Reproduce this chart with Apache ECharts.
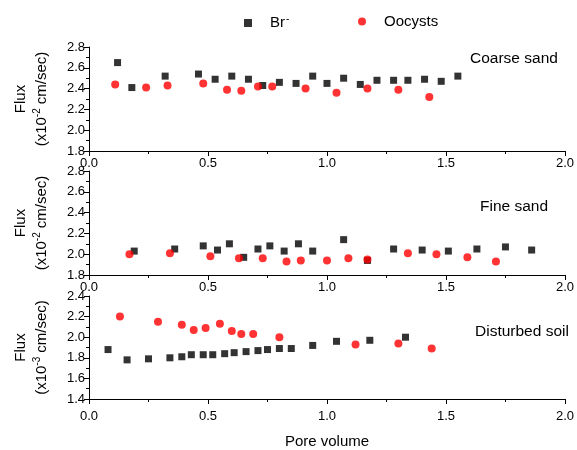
<!DOCTYPE html>
<html><head><meta charset="utf-8">
<script src="https://cdn.jsdelivr.net/npm/echarts@6/dist/echarts.min.js"></script>
<style>html,body{margin:0;padding:0;background:#fff}#c{width:577px;height:450px}</style>
</head><body><div id="c"></div>
<script>
// ---- data (pore volume, flux) ----
const coarseBrX = [0.12,0.18,0.32,0.46,0.53,0.60,0.67,0.73,0.80,0.87,0.94,1.00,1.07,1.14,1.21,1.28,1.34,1.41,1.48,1.55];
const coarseBrY = [2.65,2.41,2.52,2.54,2.49,2.52,2.49,2.43,2.46,2.45,2.52,2.45,2.50,2.44,2.48,2.48,2.48,2.49,2.47,2.52];
const coarseOoX = [0.11,0.24,0.33,0.48,0.58,0.64,0.71,0.77,0.91,1.04,1.17,1.30,1.43];
const coarseOoY = [2.44,2.41,2.43,2.45,2.39,2.38,2.42,2.42,2.40,2.36,2.40,2.39,2.32];

const fineBrX = [0.19,0.36,0.48,0.54,0.59,0.65,0.71,0.76,0.82,0.88,0.94,1.07,1.17,1.28,1.40,1.51,1.63,1.75,1.86];
const fineBrY = [2.03,2.05,2.08,2.04,2.10,1.97,2.05,2.08,2.03,2.10,2.03,2.14,1.94,2.05,2.04,2.03,2.05,2.07,2.04];
const fineOoX = [0.17,0.34,0.51,0.63,0.73,0.83,0.89,1.00,1.09,1.17,1.34,1.46,1.59,1.71];
const fineOoY = [2.00,2.01,1.98,1.96,1.96,1.93,1.94,1.94,1.96,1.95,2.01,2.00,1.97,1.93];

const soilBrX = [0.08,0.16,0.25,0.34,0.39,0.43,0.48,0.52,0.57,0.61,0.66,0.71,0.75,0.80,0.85,0.94,1.04,1.18,1.33];
const soilBrY = [1.88,1.78,1.79,1.80,1.81,1.83,1.83,1.83,1.84,1.85,1.86,1.87,1.88,1.89,1.89,1.92,1.96,1.97,2.00];
const soilOoX = [0.13,0.29,0.39,0.44,0.49,0.55,0.60,0.64,0.69,0.80,1.12,1.30,1.44];
const soilOoY = [2.20,2.15,2.12,2.07,2.09,2.13,2.06,2.03,2.03,2.00,1.93,1.94,1.89];

const panelNames = ['Coarse sand','Fine sand','Disturbed soil'];
const yMins = [1.8,1.8,1.4];
const yMaxs = [2.8,2.8,2.4];
const unitExps = ['-2','-2','-3'];
const xMin = 0, xMax = 2.0, xStep = 0.5, yStep = 0.2;
const seriesNames = ['Br','Oocysts'];
const xTitle = 'Pore volume';

// ---- chart ----
const FONT = 'Liberation Sans, Arial, sans-serif';
const zip = (xs, ys) => xs.map((x, i) => [x, ys[i]]);
const panels = [
  [zip(coarseBrX, coarseBrY), zip(coarseOoX, coarseOoY)],
  [zip(fineBrX, fineBrY), zip(fineOoX, fineOoY)],
  [zip(soilBrX, soilBrY), zip(soilOoX, soilOoY)]
];
const tops = [47, 171, 296];
const H = 104, L = 89, W = 476;

const grid = tops.map(t => ({left: L, top: t, width: W, height: H}));
const axisCommon = {
  axisLine: {show: true, onZero: false, lineStyle: {color: '#000', width: 1}},
  axisTick: {show: true, length: 5, lineStyle: {color: '#000'}},
  minorTick: {show: true, splitNumber: 2, length: 3, lineStyle: {color: '#000'}},
  splitLine: {show: false},
  minorSplitLine: {show: false}
};
const xAxis = tops.map((t, i) => Object.assign({}, axisCommon, {
  type: 'value', gridIndex: i, min: xMin, max: xMax, interval: xStep,
  axisLabel: {color: '#000', fontSize: 13, fontFamily: FONT, margin: i === 2 ? 11 : 6,
    formatter: v => v.toFixed(1)},
  name: i === 2 ? xTitle : '', nameLocation: 'middle', nameGap: 35,
  nameTextStyle: {color: '#000', fontSize: 15, fontFamily: FONT}
}));
const yAxis = tops.map((t, i) => Object.assign({}, axisCommon, {
  type: 'value', gridIndex: i, min: yMins[i], max: yMaxs[i], interval: yStep,
  axisLabel: {color: '#000', fontSize: 13, fontFamily: FONT, margin: 4,
    formatter: v => v.toFixed(1)},
  name: '{t|Flux}\n{t|(x10}{s|' + unitExps[i] + '}{t| cm/sec)}',
  nameLocation: 'middle', nameRotate: 90, nameGap: 37,
  nameTextStyle: {color: '#000', fontFamily: FONT, lineHeight: 21,
    rich: {
      t: {fontSize: 15, fontFamily: FONT, color: '#000', lineHeight: 21},
      s: {fontSize: 10, fontFamily: FONT, color: '#000', lineHeight: 21, padding: [0, 0, 9, 0]}
    }}
}));
const series = [];
panels.forEach((p, i) => {
  series.push({name: seriesNames[0], type: 'scatter', xAxisIndex: i, yAxisIndex: i,
    symbol: 'rect', symbolSize: 7, itemStyle: {color: '#000'}, data: p[0]});
  series.push({name: seriesNames[1], type: 'scatter', xAxisIndex: i, yAxisIndex: i,
    symbol: 'circle', symbolSize: 8, itemStyle: {color: '#ff0000'}, data: p[1]});
});
const labelPos = [[470, 51], [480, 199], [475, 324]];
const graphic = panelNames.map((n, i) => ({
  type: 'text', left: labelPos[i][0], top: labelPos[i][1],
  style: {text: n, fill: '#000', fontSize: 15.5, fontFamily: FONT}
}));

const chart = echarts.init(document.getElementById('c'), null, {renderer: 'canvas'});
chart.setOption({
  animation: false,
  backgroundColor: '#fff',
  grid, xAxis, yAxis, series, graphic,
  legend: [
    {left: 239, top: 9, itemWidth: 8, itemHeight: 8, selectedMode: false,
      data: [{name: 'Br', icon: 'rect'}],
      formatter: () => '{a|Br}{s|-}',
      textStyle: {fontFamily: FONT, color: '#000', fontSize: 15, padding: [0, 0, 0, 13],
        rich: {a: {fontSize: 15, fontFamily: FONT, color: '#000', lineHeight: 16},
               s: {fontSize: 10, fontFamily: FONT, color: '#000', lineHeight: 16, padding: [0, 0, 8, 1]}}}},
    {left: 353, top: 9, itemWidth: 8, itemHeight: 8, selectedMode: false,
      data: [{name: 'Oocysts', icon: 'circle'}],
      textStyle: {fontFamily: FONT, color: '#000', fontSize: 15, padding: [0, 0, 0, 13]}}
  ]
});
</script></body></html>
